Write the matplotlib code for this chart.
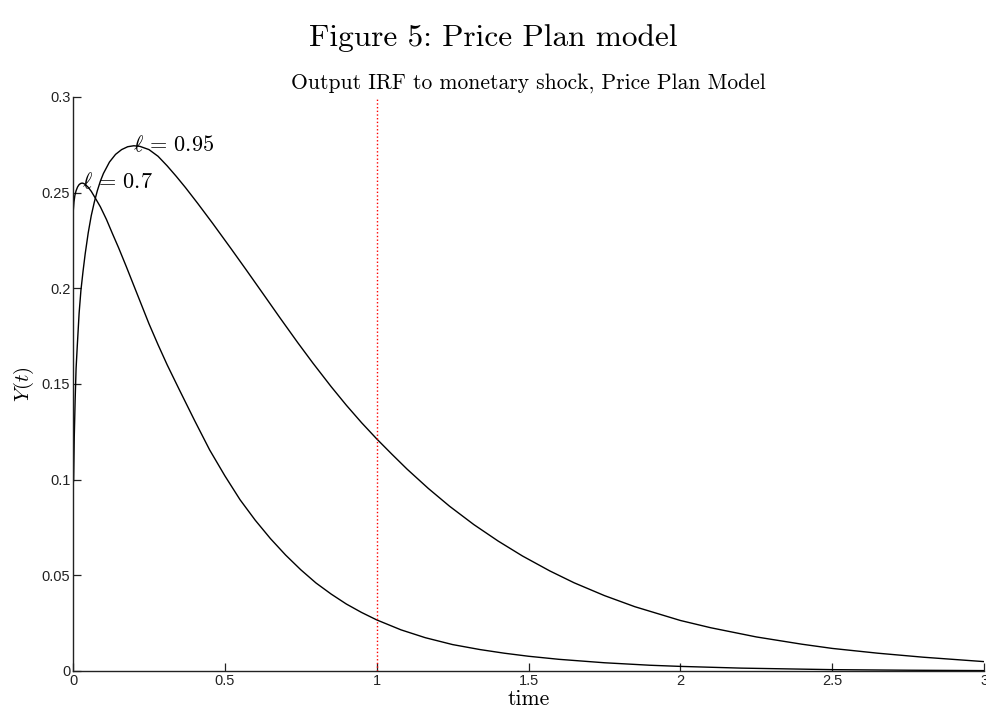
#!/usr/bin/env python3
import matplotlib
matplotlib.use("Agg")
import matplotlib.pyplot as plt

# --- data ---
t_095 = [0.0, 0.002, 0.004, 0.007, 0.01, 0.014, 0.02, 0.026, 0.033, 0.04, 0.05,
         0.06, 0.07, 0.08, 0.09, 0.1, 0.12, 0.14, 0.16, 0.18, 0.2, 0.22, 0.25,
         0.28, 0.31, 0.34, 0.37, 0.41, 0.46, 0.52, 0.57, 0.63, 0.68, 0.74, 0.79,
         0.85, 0.9, 0.95, 1.0, 1.05, 1.1, 1.17, 1.24, 1.32, 1.4, 1.48, 1.57,
         1.65, 1.75, 1.85, 2.0, 2.1, 2.25, 2.4, 2.5, 2.65, 2.8, 3.0]
y_095 = [0.097, 0.1, 0.122, 0.142, 0.158, 0.17, 0.187, 0.199, 0.209, 0.218,
         0.229, 0.238, 0.245, 0.251, 0.256, 0.260, 0.266, 0.270, 0.2725, 0.274,
         0.2745, 0.2742, 0.2725, 0.269, 0.264, 0.2585, 0.2527, 0.2445, 0.2339,
         0.2208, 0.2097, 0.1962, 0.1849, 0.1716, 0.1609, 0.1486, 0.1389, 0.1298,
         0.1213, 0.1133, 0.1055, 0.0954, 0.0861, 0.0765, 0.0679, 0.0601, 0.0523,
         0.0461, 0.0394, 0.0336, 0.0264, 0.0226, 0.0178, 0.0140, 0.0118, 0.0093,
         0.0072, 0.0049]

t_07 = [0.0, 0.001, 0.003, 0.006, 0.01, 0.015, 0.02, 0.025, 0.03, 0.035, 0.04,
        0.05, 0.06, 0.075, 0.09, 0.11, 0.13, 0.15, 0.175, 0.2, 0.225, 0.25, 0.28,
        0.31, 0.35, 0.4, 0.45, 0.5, 0.55, 0.6, 0.65, 0.7, 0.75, 0.8, 0.85, 0.9,
        0.95, 1.0, 1.08, 1.16, 1.25, 1.34, 1.42, 1.5, 1.6, 1.75, 1.9, 2.0, 2.2,
        2.5, 2.75, 3.0]
y_07 = [0.237, 0.241, 0.245, 0.2485, 0.251, 0.253, 0.2542, 0.2548, 0.255,
        0.2548, 0.2543, 0.2528, 0.2507, 0.2467, 0.2426, 0.236, 0.2285, 0.2212,
        0.2115, 0.2015, 0.1915, 0.1815, 0.1705, 0.16, 0.147, 0.131, 0.1155,
        0.102, 0.0895, 0.0788, 0.0692, 0.0606, 0.0529, 0.046, 0.0402, 0.035,
        0.0306, 0.0267, 0.0215, 0.0174, 0.0138, 0.0112, 0.0093, 0.0077, 0.0061,
        0.0043, 0.003, 0.0024, 0.0015, 0.0007, 0.0004, 0.0002]

labels = [r"$\ell\,=\,0.95$", r"$\ell\,=\,0.7$"]
label_at = [(0.198, 0.2748), (0.03, 0.2556)]

x_ticks = [0, 0.5, 1, 1.5, 2, 2.5, 3]
x_ticklabels = ["0", "0.5", "1", "1.5", "2", "2.5", "3"]
y_ticks = [0, 0.05, 0.1, 0.15, 0.2, 0.25, 0.3]
y_ticklabels = ["0", "0.05", "0.1", "0.15", "0.2", "0.25", "0.3"]
vline_t = 1.0


def main():
    plt.rcParams["mathtext.fontset"] = "cm"
    serif = "cmr10"
    sans = ["Liberation Sans", "DejaVu Sans"]

    fig = plt.figure(figsize=(9.87, 7.12), dpi=100)
    ax = fig.add_axes([0.074, 0.0576, 0.923, 0.8062])

    ax.plot(t_095, y_095, color="k", lw=1.0)
    ax.plot(t_07, y_07, color="k", lw=1.0)
    ax.axvline(vline_t, color="red", ls=":", lw=1.0)

    for txt, (tx, ty) in zip(labels, label_at):
        ax.text(tx, ty, txt, fontsize=16, ha="left", va="center")

    ax.set_xlim(0, 3)
    ax.set_ylim(0, 0.3)
    ax.set_xticks(x_ticks)
    ax.set_xticklabels(x_ticklabels, family=sans, fontsize=10.5)
    ax.set_yticks(y_ticks)
    ax.set_yticklabels(y_ticklabels, family=sans, fontsize=10.5)
    ax.tick_params(direction="in", length=6, width=0.9, pad=2, colors="#222222")

    for side in ("top", "right"):
        ax.spines[side].set_visible(False)
    for side in ("left", "bottom"):
        ax.spines[side].set_linewidth(1.0)
        ax.spines[side].set_color("#222222")

    ax.set_title("Output IRF to monetary shock, Price Plan Model",
                 family=serif, fontsize=15.5, pad=6)
    ax.set_xlabel("time", family=serif, fontsize=15.5, labelpad=1)
    ax.set_ylabel(r"$Y(t)$", fontsize=15, labelpad=4)

    fig.text(0.5, 0.947, "Figure 5: Price Plan model", family=serif,
             fontsize=22.5, ha="center", va="center")

    fig.savefig("out.png", dpi=100)


if __name__ == "__main__":
    main()
